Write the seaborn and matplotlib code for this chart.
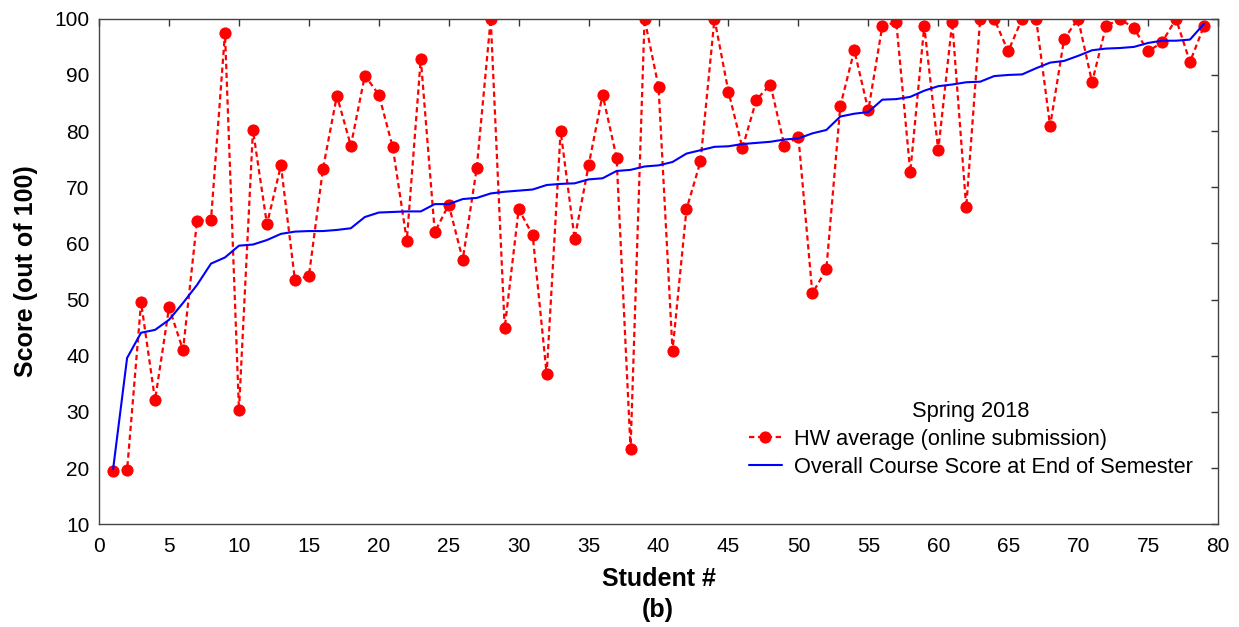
import matplotlib
matplotlib.use("Agg")
import matplotlib.pyplot as plt
import seaborn as sns

# student index (sorted by final course score)
students = list(range(1, 80))

hw_average = [
    19.5, 19.6, 49.5, 32.1, 48.6, 41.0, 64.0, 64.2, 97.5, 30.3,
    80.2, 63.4, 73.9, 53.5, 54.2, 73.2, 86.3, 77.4, 89.9, 86.5,
    77.1, 60.5, 92.9, 62.0, 66.9, 57.1, 73.4, 100.0, 44.9, 66.1,
    61.5, 36.7, 80.0, 60.8, 73.9, 86.5, 75.3, 23.4, 100.0, 87.9,
    40.9, 66.1, 74.6, 100.0, 87.0, 77.0, 85.6, 88.3, 77.4, 79.0,
    51.1, 55.4, 84.5, 94.4, 83.7, 98.7, 99.4, 72.7, 98.7, 76.6,
    99.4, 66.4, 100.0, 100.0, 94.2, 100.0, 100.0, 80.9, 96.4, 100.0,
    88.7, 98.7, 100.0, 98.3, 94.2, 95.8, 100.0, 92.3, 98.7,
]

course_score = [
    19.8, 39.6, 44.1, 44.6, 46.4, 49.4, 52.6, 56.4, 57.5, 59.6,
    59.8, 60.6, 61.7, 62.1, 62.2, 62.2, 62.4, 62.7, 64.7, 65.5,
    65.6, 65.7, 65.7, 67.0, 67.0, 67.9, 68.1, 68.9, 69.2, 69.4,
    69.6, 70.4, 70.6, 70.7, 71.4, 71.6, 72.9, 73.1, 73.7, 73.9,
    74.5, 76.0, 76.6, 77.2, 77.3, 77.7, 77.9, 78.1, 78.5, 78.7,
    79.6, 80.2, 82.6, 83.1, 83.4, 85.6, 85.7, 86.1, 87.2, 88.0,
    88.3, 88.7, 88.8, 89.8, 90.0, 90.1, 91.2, 92.2, 92.5, 93.4,
    94.4, 94.7, 94.8, 95.0, 95.7, 96.1, 96.1, 96.3, 99.1,
]

x_ticks = list(range(0, 81, 5))
y_ticks = list(range(10, 101, 10))

sns.set_style("white")
plt.rcParams['font.family'] = ['Liberation Sans', 'DejaVu Sans']
plt.rcParams['text.color'] = 'black'
plt.rcParams['axes.labelcolor'] = 'black'

fig, ax = plt.subplots(figsize=(12.39, 6.27), dpi=100)

sns.lineplot(x=students, y=hw_average, ax=ax, color='red',
             linestyle=(0, (2.4, 1.6)), linewidth=1.6, marker='o',
             markersize=8, markeredgecolor='red',
             label='HW average (online submission)')
sns.lineplot(x=students, y=course_score, ax=ax, color='blue', linewidth=1.5,
             label='Overall Course Score at End of Semester')

ax.set_xlim(0, 80)
ax.set_ylim(10, 100)
ax.set_xticks(x_ticks)
ax.set_yticks(y_ticks)
ax.tick_params(direction='in', top=True, right=True, length=5, width=1,
               labelsize=15, colors='#333333', labelcolor='black')
ax.tick_params(axis='x', pad=9)
ax.tick_params(axis='y', pad=7)
for sp in ax.spines.values():
    sp.set_color('#444444')
    sp.set_linewidth(1.0)

ax.set_xlabel("Student #", fontsize=18, fontweight='bold', labelpad=8)
ax.set_ylabel("Score (out of 100)", fontsize=18, fontweight='bold', labelpad=12)

leg = ax.legend(loc='lower right', bbox_to_anchor=(0.985, 0.075), frameon=False,
                title='Spring 2018', fontsize=15.7, title_fontsize=15.7,
                handlelength=1.5, handletextpad=0.55, labelspacing=0.3,
                borderaxespad=0.0)

fig.subplots_adjust(left=0.080, right=0.983, top=0.970, bottom=0.164)
fig.text(0.531, 0.008, "(b)", ha='center', va='bottom', fontsize=18,
         fontweight='bold')

plt.savefig("out.png", dpi=100)
plt.close()
